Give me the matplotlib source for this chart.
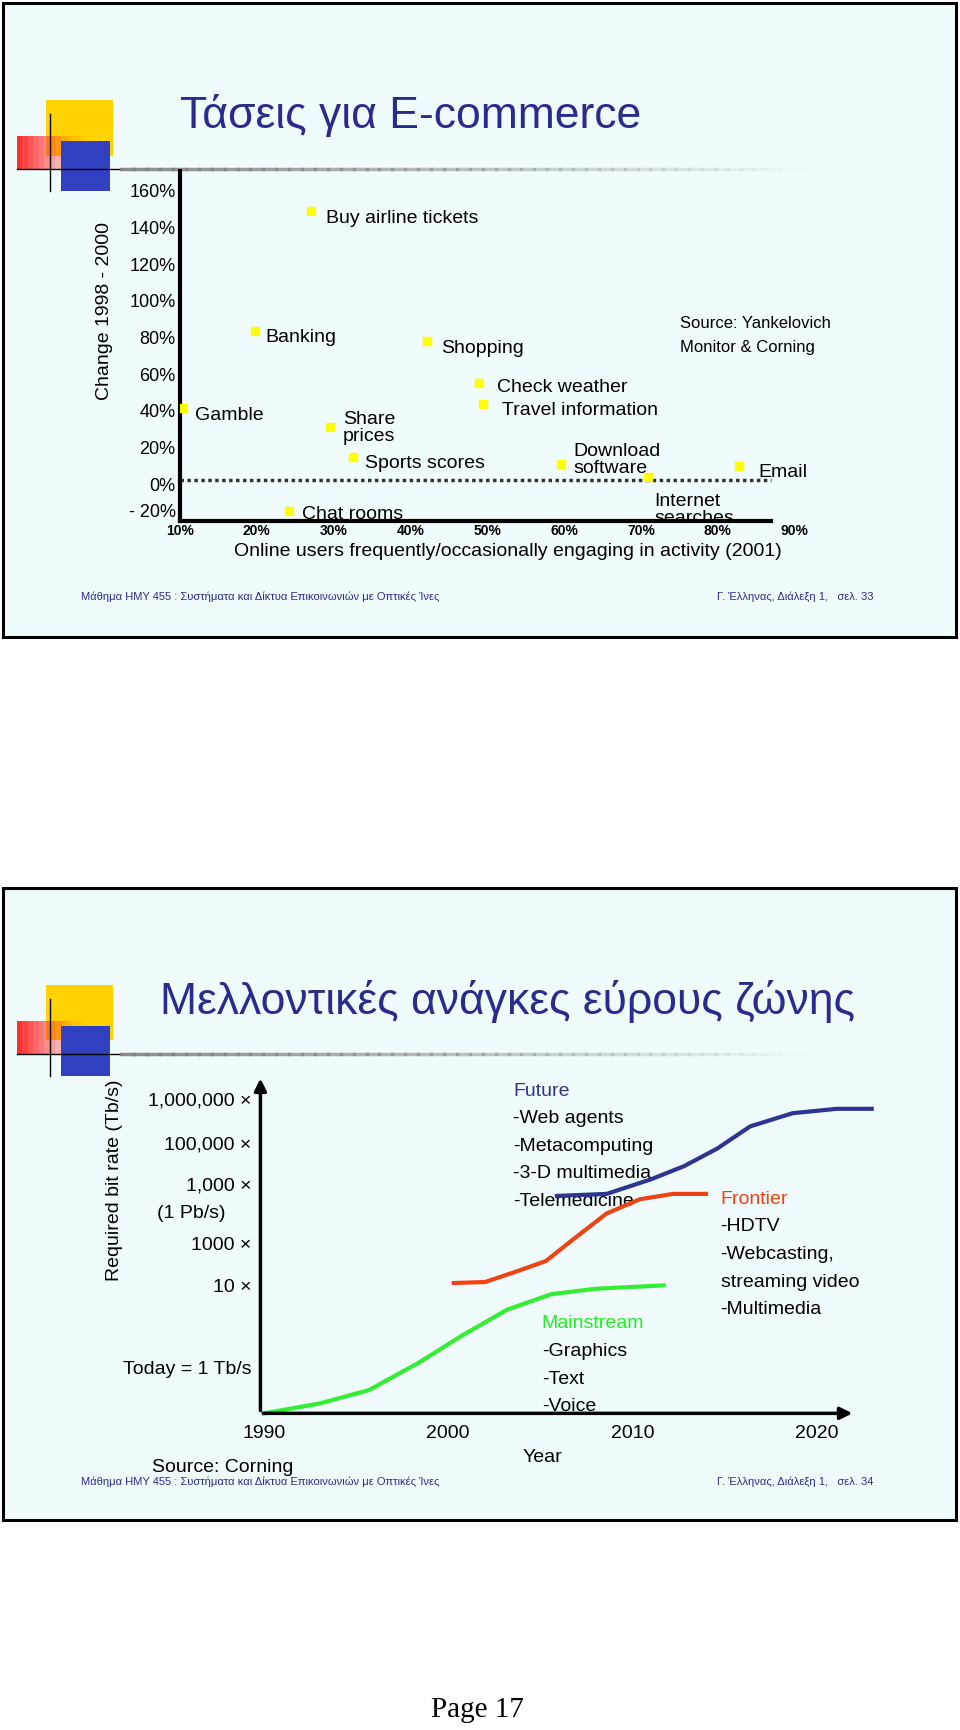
import matplotlib
matplotlib.use("Agg")
import matplotlib.pyplot as plt
from matplotlib.patches import Rectangle
import numpy as np

plt.rcParams["font.family"] = "Liberation Sans"

# ---------- data: slide 1 ----------
activities = ["Buy airline tickets", "Banking", "Shopping", "Check weather", "Travel information",
              "Gamble", "Share\nprices", "Sports scores", "Download\nsoftware", "Email",
              "Internet\nsearches", "Chat rooms"]
users_pct = [27.1, 19.8, 42.2, 48.9, 49.5, 10.4, 29.5, 32.6, 59.6, 82.8, 70.9, 24.2]
change_pct = [149, 83.5, 78, 55.2, 43.7, 41.3, 31, 15, 11.2, 10, 4, -14.7]
x_ticks1 = [10, 20, 30, 40, 50, 60, 70, 80, 90]
y_ticks1 = [-20, 0, 20, 40, 60, 80, 100, 120, 140, 160]
y_ticklabels1 = ["- 20%", "0%", "20%", "40%", "60%", "80%", "100%", "120%", "140%", "160%"]

# ---------- data: slide 2 ----------
green_years = [1990, 1993, 1995.7, 1998.4, 2000.8, 2003.2, 2005.6, 2008, 2011.7]
green_level = [0, 2.9, 6.9, 15, 23.2, 30.7, 35.3, 36.9, 37.9]
red_years = [2000.3, 2002, 2003.8, 2005.3, 2006.8, 2008.6, 2010.4, 2012.2, 2014]
red_level = [38.6, 38.9, 42.2, 45.1, 51.6, 59.2, 63.4, 65, 65]
blue_years = [2005.9, 2008.6, 2011, 2012.8, 2014.6, 2016.4, 2018.7, 2021.1, 2023]
blue_level = [64.4, 65, 69.3, 73.2, 78.4, 85, 88.9, 90.2, 90.2]
year_ticks = [1990, 2000, 2010, 2020]
rate_levels = [92.5, 79.4, 67.3, 49.7, 37.3, 13.1]
rate_labels = ["1,000,000 ×", "100,000 ×", "1,000 ×", "1000 ×", "10 ×", "Today = 1 Tb/s"]

W, H = 870, 1568
fig = plt.figure(figsize=(9.6, 17.3), dpi=100)
fig.patch.set_facecolor("white")
bg = fig.add_axes([0, 0, 1, 1])
bg.set_xlim(0, W); bg.set_ylim(H, 0); bg.axis("off")

TITLE = "#2b2b8f"
SLIDE = "#f0fbfd"

def slide(y0, y1, title, ty, footer_page):
    bg.add_patch(Rectangle((3, y0), 863, y1 - y0, facecolor=SLIDE, edgecolor="black", lw=2.2))
    bg.add_patch(Rectangle((42, y0 + 88), 60, 50, facecolor="#ffd200", edgecolor="none"))
    for i in range(12):
        bg.add_patch(Rectangle((15 + i * 5, y0 + 120), 5, 30, facecolor="#ff3030",
                               alpha=max(0.05, 1 - i / 11), edgecolor="none"))
    bg.add_patch(Rectangle((55, y0 + 125), 45, 45, facecolor="#3040c0", edgecolor="none"))
    bg.plot([45, 45], [y0 + 100, y0 + 170], color="black", lw=1)
    bg.plot([15, 110], [y0 + 150, y0 + 150], color="black", lw=1)
    xs = np.linspace(110, 800, 60)
    for a, b, k in zip(xs[:-1], xs[1:], range(59)):
        bg.plot([a, b], [y0 + 150, y0 + 150], color="gray", lw=2.5, alpha=max(0, 0.9 - k / 59))
    bg.text(163 if footer_page == 33 else 145, ty, title, fontsize=32, color=TITLE, va="center")
    bg.text(73, y0 + 538, "Μάθημα ΗΜΥ 455 : Συστήματα και Δίκτυα Επικοινωνιών με Οπτικές Ίνες",
            fontsize=8, color=TITLE, va="center")
    bg.text(650, y0 + 538, f"Γ. Έλληνας, Διάλεξη 1,   σελ. {footer_page}",
            fontsize=8, color=TITLE, va="center")

slide(3, 577, "Τάσεις για E-commerce", 105, 33)
slide(805, 1378, "Μελλοντικές ανάγκες εύρους ζώνης", 908, 34)
bg.text(433, 1550, "Page 17", fontsize=21, family="Liberation Serif", ha="center", va="center")

def fax(x0, y0, x1, y1):
    return fig.add_axes([x0 / W, 1 - y1 / H, (x1 - x0) / W, (y1 - y0) / H])

# ---------- chart 1 ----------
ax = fax(163, 155, 720, 472)
ax.patch.set_alpha(0)
ax.set_xlim(10, 90); ax.set_ylim(-20, 170.8)
for s in ["top", "right"]:
    ax.spines[s].set_visible(False)
ax.spines["left"].set_linewidth(3); ax.spines["bottom"].set_linewidth(3)
ax.spines["bottom"].set_bounds(10, 87)
ax.set_yticks(y_ticks1, y_ticklabels1, fontsize=13)
ax.set_xticks(x_ticks1, [f"{v}%" for v in x_ticks1], fontsize=10, fontweight="bold")
ax.tick_params(length=0, pad=2)
ax.tick_params(axis="y", pad=3)
ax.get_yticklabels()[0].set_va("bottom")
ax.plot([10, 87], [2, 2], color="#333333", lw=2.5, ls=(0, (1, 1)))
ax.scatter(users_pct, change_pct, marker="s", s=32, color="#ffff00", zorder=3)
offsets = [(13, 7), (9, 6), (13, 7), (17, 4), (17, 6), (11, 6), (12, 1), (10, 6), (11, -3),
           (17, 6), (6, 30), (12, 3)]
k = 1.103 * 0.72
for lab, xv, yv, (dx, dy) in zip(activities, users_pct, change_pct, offsets):
    ax.annotate(lab, (xv, yv), xytext=(dx * k, -dy * k), textcoords="offset points",
                fontsize=14, va="center", ha="left", linespacing=1.0)
bg.text(95, 282, "Change 1998 - 2000", rotation=90, fontsize=14, ha="center", va="center")
bg.text(460, 500, "Online users frequently/occasionally engaging in activity (2001)",
        fontsize=14, ha="center", va="center")
bg.text(616, 293, "Source: Yankelovich", fontsize=12, va="center")
bg.text(616, 315, "Monitor & Corning", fontsize=12, va="center")

# ---------- chart 2 ----------
ax2 = fax(236, 975, 775, 1281)
ax2.patch.set_alpha(0)
ax2.set_xlim(1989.8, 2022.1); ax2.set_ylim(0, 100)
ax2.axis("off")
ax2.plot(green_years, green_level, color="#33ee33", lw=3, clip_on=False)
ax2.plot(red_years, red_level, color="#ee4411", lw=3, clip_on=False)
ax2.plot(blue_years, blue_level, color="#2e3590", lw=3, clip_on=False)
ax2.annotate("", xy=(1, 0), xytext=(0, 0), xycoords="axes fraction",
             arrowprops=dict(arrowstyle="-|>", color="black", lw=2.5, mutation_scale=18))
ax2.annotate("", xy=(0, 1), xytext=(0, 0), xycoords="axes fraction",
             arrowprops=dict(arrowstyle="-|>", color="black", lw=2.5, mutation_scale=18))
for yv in year_ticks:
    ax2.text(yv, -6, str(yv), fontsize=14, ha="center", va="center")
ax2.text(2005.1, -13, "Year", fontsize=14, ha="center", va="center")
for lv, lab in zip(rate_levels, rate_labels):
    ax2.text(1989.3, lv, lab, fontsize=14, ha="right", va="center")
ax2.text(1987.9, 59.1, "(1 Pb/s)", fontsize=14, ha="right", va="center")
bg.text(104, 1070, "Required bit rate (Tb/s)", rotation=90, fontsize=14, ha="center", va="center")
bg.text(138, 1330, "Source: Corning", fontsize=14, va="center")

def block(x, y, head, color, items):
    bg.text(x, y, head, fontsize=14, color=color, va="center")
    for i, it in enumerate(items):
        bg.text(x, y + 25 * (i + 1), it, fontsize=14, va="center")

block(465, 989, "Future", "#2e3590", ["-Web agents", "-Metacomputing", "-3-D multimedia", "-Telemedicine"])
block(653, 1087, "Frontier", "#ee4411", ["-HDTV", "-Webcasting,", "streaming video", "-Multimedia"])
block(491, 1200, "Mainstream", "#22ee22", ["-Graphics", "-Text", "-Voice"])

fig.savefig("out.png", dpi=100)
